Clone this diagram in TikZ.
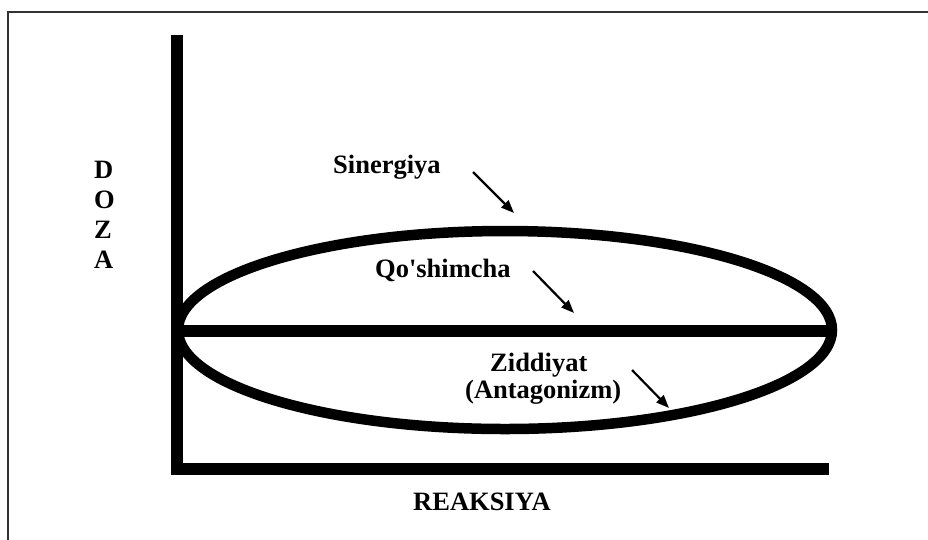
\documentclass[tikz,border=0pt]{standalone}
\usepackage{fontspec}
\setmainfont{Liberation Serif}[Ligatures=TeXOff]
\usetikzlibrary{arrows.meta}
\begin{document}
\begin{tikzpicture}[x=1pt,y=-1pt,
  lbl/.style={font=\fontsize{26.5}{30}\selectfont\bfseries, inner sep=0pt, anchor=base west},
  axisline/.style={line width=12.5pt, line cap=butt},
  curve/.style={line width=10.5pt},
  pointer/.style={line width=2.2pt, -{Triangle[length=13pt,width=10pt]}}]
\useasboundingbox (0,0) rectangle (928,539);
\fill[white] (0,0) rectangle (928,539);
% frame
\draw[line width=1.6pt, draw=black!80] (8,545) -- (8,12) -- (935,12);
% axes
\draw[axisline] (177,35) -- (177,469);
\draw[axisline] (171,469) -- (829,469);
% ellipse and middle line
\draw[curve] (505,330) ellipse [x radius=327, y radius=99];
\draw[axisline] (177,331) -- (835,331);
% labels
\node[lbl] (d) at (94,178) {D};
\node[lbl] (o) at (94,208) {O};
\node[lbl] (z) at (94,238) {Z};
\node[lbl] (a) at (94,268) {A};
\node[lbl] (sin) at (333,173) {Sinergiya};
\node[lbl] (qos) at (375,277) {Qo'shimcha};
\node[lbl] (zid) at (490,371) {Ziddiyat};
\node[lbl] (ant) at (465,398) {(Antagonizm)};
\node[lbl] (rea) at (413,510) {REAKSIYA};
% arrows
\coordinate (s1) at (473,172);
\coordinate (s2) at (514,213);
\coordinate (q1) at (533,271);
\coordinate (q2) at (574,313);
\coordinate (z1) at (632,370);
\coordinate (z2) at (669,408);
\draw[pointer] (s1) -- (s2);
\draw[pointer] (q1) -- (q2);
\draw[pointer] (z1) -- (z2);
\end{tikzpicture}
\end{document}
